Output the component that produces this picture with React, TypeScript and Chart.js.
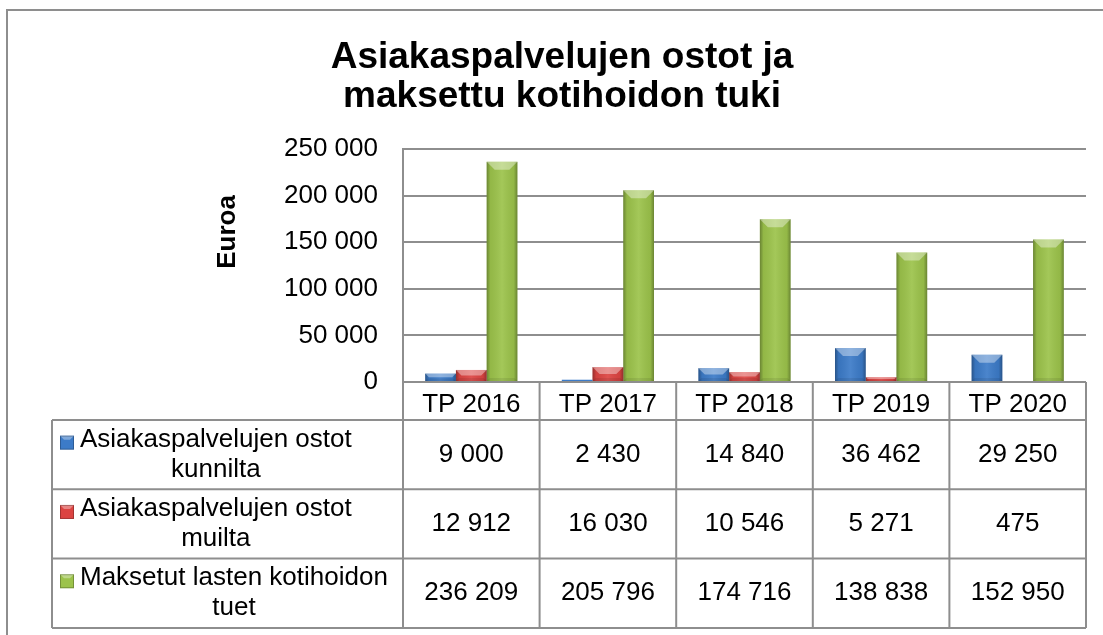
import React, { useEffect, useRef } from 'react';
import { Chart, registerables } from 'chart.js';

Chart.register(...registerables);

// ---- data ----
const categories = ['TP 2016', 'TP 2017', 'TP 2018', 'TP 2019', 'TP 2020'];
const ostotKunnilta = [9000, 2430, 14840, 36462, 29250];
const ostotMuilta = [12912, 16030, 10546, 5271, 475];
const kotihoidonTuet = [236209, 205796, 174716, 138838, 152950];
const seriesNames = [
  'Asiakaspalvelujen ostot kunnilta',
  'Asiakaspalvelujen ostot muilta',
  'Maksetut lasten kotihoidon tuet',
];
const seriesColors = ['#3c7bc8', '#dc4442', '#9cc34b'];
const titleLines = ['Asiakaspalvelujen ostot ja', 'maksettu kotihoidon tuki'];
const yAxisTitle = 'Euroa';
const yMin = 0;
const yMax = 250000;
const yStep = 50000;

// ---- style ----
const FONT = '"Liberation Sans", Arial, Helvetica, sans-serif';
const LINE = '#8e8e8e';
const ROW_H = 69.3;
const LEG_LEFT = 52;

const fmt = (n: number) => String(Math.round(n)).replace(/\B(?=(\d{3})+(?!\d))/g, ' ');

const framePlugin = {
  id: 'frame',
  beforeDraw(chart: any) {
    const ctx = chart.ctx;
    ctx.save();
    ctx.fillStyle = '#fff';
    ctx.fillRect(0, 0, chart.width, chart.height);
    ctx.strokeStyle = LINE;
    ctx.lineWidth = 2;
    ctx.strokeRect(7, 10, chart.width + 20, chart.height + 20);
    ctx.restore();
  },
};

const bevelPlugin = {
  id: 'bevel',
  afterDatasetsDraw(chart: any) {
    const ctx = chart.ctx;
    const a = chart.chartArea;
    ctx.save();
    ctx.beginPath();
    ctx.rect(a.left, a.top, a.right - a.left, a.bottom - a.top);
    ctx.clip();
    chart.data.datasets.forEach((_ds: any, i: number) => {
      const meta = chart.getDatasetMeta(i);
      meta.data.forEach((el: any) => {
        const p = el.getProps(['x', 'y', 'base', 'width'], true);
        const l = p.x - p.width / 2;
        const r = p.x + p.width / 2;
        const t = Math.min(p.y, p.base);
        const b = Math.max(p.y, p.base);
        const h = b - t;
        const w = r - l;
        if (h < 1.5) return;
        const g = ctx.createLinearGradient(l, 0, r, 0);
        g.addColorStop(0, 'rgba(0,0,0,0.32)');
        g.addColorStop(0.12, 'rgba(0,0,0,0.06)');
        g.addColorStop(0.5, 'rgba(255,255,255,0.08)');
        g.addColorStop(0.88, 'rgba(0,0,0,0.06)');
        g.addColorStop(1, 'rgba(0,0,0,0.32)');
        ctx.fillStyle = g;
        ctx.fillRect(l, t, w, h);
        const d = Math.min(8, h / 2, w / 2);
        ctx.beginPath();
        ctx.moveTo(l, t);
        ctx.lineTo(r, t);
        ctx.lineTo(r - d, t + d);
        ctx.lineTo(l + d, t + d);
        ctx.closePath();
        ctx.fillStyle = 'rgba(255,255,255,0.38)';
        ctx.fill();
        const db = Math.min(3, h / 3);
        ctx.beginPath();
        ctx.moveTo(l, b);
        ctx.lineTo(r, b);
        ctx.lineTo(r - db, b - db);
        ctx.lineTo(l + db, b - db);
        ctx.closePath();
        ctx.fillStyle = 'rgba(0,0,0,0.08)';
        ctx.fill();
      });
    });
    ctx.restore();
  },
};

function wrap(ctx: CanvasRenderingContext2D, text: string, maxW: number): string[] {
  const words = text.split(' ');
  const lines: string[] = [];
  let cur = '';
  for (const w of words) {
    const test = cur ? cur + ' ' + w : w;
    if (ctx.measureText(test).width > maxW && cur) {
      lines.push(cur);
      cur = w;
    } else cur = test;
  }
  if (cur) lines.push(cur);
  return lines;
}

function drawMarker(ctx: CanvasRenderingContext2D, x: number, y: number, s: number, color: string) {
  ctx.fillStyle = color;
  ctx.fillRect(x, y, s, s);
  const d = 4;
  ctx.beginPath();
  ctx.moveTo(x, y);
  ctx.lineTo(x + s, y);
  ctx.lineTo(x + s - d, y + d);
  ctx.lineTo(x + d, y + d);
  ctx.closePath();
  ctx.fillStyle = 'rgba(255,255,255,0.35)';
  ctx.fill();
  ctx.strokeStyle = 'rgba(0,0,0,0.25)';
  ctx.lineWidth = 1;
  ctx.strokeRect(x + 0.5, y + 0.5, s - 1, s - 1);
}

const tablePlugin = {
  id: 'dataTable',
  afterDraw(chart: any) {
    const ctx = chart.ctx;
    const xs = chart.scales.x;
    const area = chart.chartArea;
    const headTop = area.bottom;
    const headBottom = xs.bottom;
    const tableBottom = headBottom + ROW_H * 3;
    const n = categories.length;
    const catW = (xs.right - xs.left) / n;
    const edges = categories.map((_, i) => xs.getPixelForValue(i) - catW / 2);
    edges.push(xs.right);

    ctx.save();
    ctx.strokeStyle = LINE;
    ctx.lineWidth = 2;
    ctx.beginPath();
    ctx.moveTo(xs.left, headTop);
    ctx.lineTo(xs.right, headTop);
    for (let r = 0; r <= 3; r++) {
      const y = headBottom + r * ROW_H;
      ctx.moveTo(LEG_LEFT, y);
      ctx.lineTo(xs.right, y);
    }
    edges.forEach((x) => {
      ctx.moveTo(x, headTop);
      ctx.lineTo(x, tableBottom);
    });
    ctx.moveTo(LEG_LEFT, headBottom);
    ctx.lineTo(LEG_LEFT, tableBottom);
    ctx.stroke();

    const seriesData = [ostotKunnilta, ostotMuilta, kotihoidonTuet];
    ctx.fillStyle = '#000';
    ctx.textBaseline = 'middle';
    seriesData.forEach((vals, r) => {
      const rowMid = headBottom + r * ROW_H + ROW_H / 2;
      ctx.font = `26px ${FONT}`;
      const lines = wrap(ctx, seriesNames[r], 320);
      const y0 = rowMid - ((lines.length - 1) * 30) / 2;
      const w1 = ctx.measureText(lines[0]).width;
      drawMarker(ctx, 60, y0 - 4, 14, seriesColors[r]);
      ctx.fillStyle = '#000';
      ctx.textAlign = 'left';
      ctx.fillText(lines[0], 80, y0);
      ctx.textAlign = 'center';
      for (let k = 1; k < lines.length; k++) {
        ctx.fillText(lines[k], 80 + w1 / 2, y0 + k * 30);
      }
      vals.forEach((v, c) => {
        ctx.fillText(fmt(v), (edges[c] + edges[c + 1]) / 2, rowMid);
      });
    });

    ctx.save();
    ctx.translate(228, 232);
    ctx.rotate(-Math.PI / 2);
    ctx.font = `bold 26px ${FONT}`;
    ctx.textAlign = 'center';
    ctx.textBaseline = 'middle';
    ctx.fillStyle = '#000';
    ctx.fillText(yAxisTitle, 0, 0);
    ctx.restore();

    ctx.restore();
  },
};

export default function App() {
  const ref = useRef<HTMLCanvasElement>(null);
  useEffect(() => {
    const chart = new Chart(ref.current as HTMLCanvasElement, {
      type: 'bar',
      data: {
        labels: categories,
        datasets: [
          { label: seriesNames[0], data: ostotKunnilta, backgroundColor: seriesColors[0], borderWidth: 0 },
          { label: seriesNames[1], data: ostotMuilta, backgroundColor: seriesColors[1], borderWidth: 0 },
          { label: seriesNames[2], data: kotihoidonTuet, backgroundColor: seriesColors[2], borderWidth: 0 },
        ],
      },
      options: {
        responsive: false,
        animation: false,
        events: [],
        layout: { padding: { left: 38, right: 17, top: 0, bottom: 215 } },
        datasets: { bar: { categoryPercentage: 0.675, barPercentage: 1 } },
        plugins: {
          legend: { display: false },
          tooltip: { enabled: false },
          title: {
            display: true,
            text: titleLines,
            color: '#000',
            font: { family: FONT, size: 37, weight: 'bold', lineHeight: 1.054 },
            padding: { top: 38, bottom: 33 },
          },
        },
        scales: {
          x: {
            grid: { display: false, drawTicks: false },
            border: { display: false },
            ticks: { color: '#000', font: { family: FONT, size: 26 }, padding: 7, maxRotation: 0, autoSkip: false },
            afterFit: (s: any) => {
              s.height = 38;
            },
          },
          y: {
            min: yMin,
            max: yMax,
            ticks: {
              stepSize: yStep,
              color: '#000',
              font: { family: FONT, size: 26 },
              padding: 25,
              callback: (v: any) => fmt(Number(v)),
            },
            grid: { color: LINE, lineWidth: 2, drawTicks: false },
            border: { display: true, color: LINE, width: 2 },
            afterFit: (s: any) => {
              s.width = 365;
            },
          },
        },
      } as any,
      plugins: [framePlugin, bevelPlugin, tablePlugin],
    });
    return () => chart.destroy();
  }, []);
  return (
    <div style={{ position: 'fixed', left: 0, top: 0, width: 1103, height: 635, background: '#fff', overflow: 'hidden' }}>
      <canvas ref={ref} width={1103} height={635} style={{ display: 'block' }} />
    </div>
  );
}
